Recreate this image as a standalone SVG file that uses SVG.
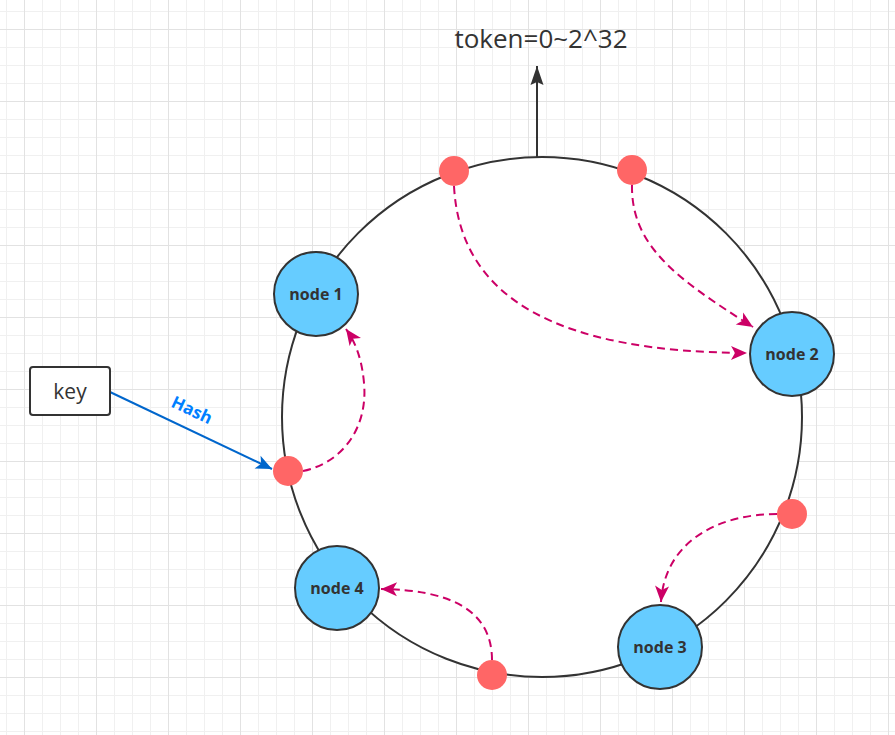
<svg xmlns="http://www.w3.org/2000/svg" width="895" height="735" viewBox="0 0 895 735">
<style>
.node{fill:#66CCFF;stroke:#333333;stroke-width:2}
.ntxt{font-family:"Open Sans","Noto Sans","DejaVu Sans",sans-serif;font-weight:bold;font-size:16px;fill:#333333;text-anchor:middle}
.dot{fill:#FF6666}
.dash{fill:none;stroke:#CC0066;stroke-width:2;stroke-dasharray:8 5}
</style>
<defs>
<pattern id="grid" patternUnits="userSpaceOnUse" x="24" y="29" width="72" height="72">
<rect x="0" y="0" width="72" height="72" fill="#ffffff"/>
<g fill="#f0f0f0">
<rect x="18" y="0" width="1" height="72"/><rect x="36" y="0" width="1" height="72"/><rect x="54" y="0" width="1" height="72"/>
<rect x="0" y="18" width="72" height="1"/><rect x="0" y="36" width="72" height="1"/><rect x="0" y="54" width="72" height="1"/>
</g>
<g fill="#e2e2e2">
<rect x="0" y="0" width="1" height="72"/><rect x="0" y="0" width="72" height="1"/>
</g>
</pattern>
<marker id="mag" markerUnits="userSpaceOnUse" markerWidth="18" markerHeight="14" refX="16" refY="7" orient="auto" overflow="visible">
<path d="M0,0 L16,7 L0,14 L4,7 Z" fill="#CC0066"/>
</marker>
<marker id="blue" markerUnits="userSpaceOnUse" markerWidth="18" markerHeight="14" refX="16" refY="7" orient="auto" overflow="visible">
<path d="M0,0 L16,7 L0,14 L4,7 Z" fill="#0066CC"/>
</marker>
<marker id="blk" markerUnits="userSpaceOnUse" markerWidth="20" markerHeight="14" refX="19" refY="6.5" orient="auto" overflow="visible">
<path d="M0,0 L19,6.5 L0,13 L3,6.5 Z" fill="#333333"/>
</marker>
</defs>
<rect x="0" y="0" width="895" height="735" fill="url(#grid)"/>

<g id="ring">
<circle cx="542" cy="417" r="260" fill="#ffffff" stroke="#333333" stroke-width="2"/>
</g>

<g id="connectors">
<line x1="537" y1="157" x2="537" y2="66" stroke="#333333" stroke-width="2" marker-end="url(#blk)"/>
<line x1="110" y1="392" x2="272" y2="469" stroke="#0066CC" stroke-width="2" marker-end="url(#blue)"/>
<path class="dash" d="M303,471 C345,462 368,425 364,383 C362,360 356,343 346,329" marker-end="url(#mag)"/>
<path class="dash" d="M454,186 C460,300 560,352 747,353" marker-end="url(#mag)"/>
<path class="dash" d="M632,185 C631,245 675,278 753,327" marker-end="url(#mag)"/>
<path class="dash" d="M777,514 C720,514 665,540 661,602" marker-end="url(#mag)"/>
<path class="dash" d="M492,660 C492,610 450,590 381,589" marker-end="url(#mag)"/>
<text x="192" y="416" transform="rotate(25 192 410)" font-family="'Open Sans','Noto Sans','DejaVu Sans',sans-serif" font-weight="bold" font-size="17" fill="#007FFF" text-anchor="middle">Hash</text>
</g>

<g id="token-label">
<text x="541" y="48" font-family="'Open Sans','Noto Sans','DejaVu Sans',sans-serif" font-size="26" fill="#333333" text-anchor="middle">token=0~2^32</text>
</g>

<g id="key">
<rect x="30" y="367" width="80" height="48" rx="3" fill="#ffffff" stroke="#333333" stroke-width="2"/>
<text x="70" y="399" font-family="'Open Sans','Noto Sans','DejaVu Sans',sans-serif" font-size="21" fill="#333333" text-anchor="middle">key</text>
</g>

<g id="dot-top-left"><circle class="dot" cx="454" cy="171" r="15"/></g>
<g id="dot-top-right"><circle class="dot" cx="632" cy="170" r="15"/></g>
<g id="dot-left"><circle class="dot" cx="288" cy="471" r="15"/></g>
<g id="dot-right"><circle class="dot" cx="792" cy="514" r="15"/></g>
<g id="dot-bottom"><circle class="dot" cx="492" cy="675" r="15"/></g>

<g id="node1"><circle class="node" cx="316" cy="294" r="42"/><text class="ntxt" x="316" y="300">node 1</text></g>
<g id="node2"><circle class="node" cx="792" cy="354" r="42"/><text class="ntxt" x="792" y="360">node 2</text></g>
<g id="node3"><circle class="node" cx="660" cy="647" r="42"/><text class="ntxt" x="660" y="653">node 3</text></g>
<g id="node4"><circle class="node" cx="337" cy="588" r="42"/><text class="ntxt" x="337" y="594">node 4</text></g>
</svg>
